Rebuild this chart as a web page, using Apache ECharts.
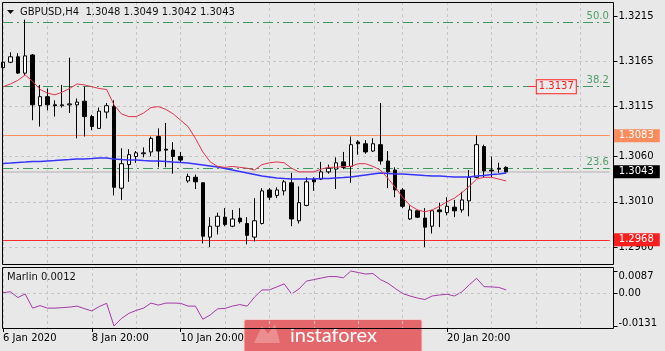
<!DOCTYPE html>
<html>
<head>
<meta charset="utf-8">
<script src="https://cdn.jsdelivr.net/npm/echarts@6/dist/echarts.min.js"></script>
<style>
  html, body { margin: 0; padding: 0; background: #e8e8e8; }
  #chart { width: 665px; height: 351px; }
</style>
</head>
<body>
<div id="chart"></div>
<script>
// GBPUSD H4 bars, [open, high, low, close]
const candles = [
  [1.3158, 1.3167, 1.3154, 1.3164], [1.3164, 1.3175, 1.3163, 1.3170], [1.3170, 1.3174, 1.3151, 1.3152],
  [1.3152, 1.3211, 1.3150, 1.3171], [1.3172, 1.3173, 1.3100, 1.3117], [1.3116, 1.3139, 1.3093, 1.3126],
  [1.3126, 1.3135, 1.3111, 1.3117], [1.3117, 1.3122, 1.3104, 1.3116], [1.3116, 1.3139, 1.3114, 1.3117],
  [1.3117, 1.3169, 1.3108, 1.3118], [1.3117, 1.3124, 1.3080, 1.3120], [1.3121, 1.3137, 1.3082, 1.3104],
  [1.3104, 1.3106, 1.3089, 1.3093], [1.3091, 1.3114, 1.3091, 1.3110], [1.3109, 1.3119, 1.3102, 1.3116],
  [1.3115, 1.3122, 1.3017, 1.3026], [1.3025, 1.3069, 1.3012, 1.3052], [1.3051, 1.3068, 1.3032, 1.3062],
  [1.3060, 1.3066, 1.3053, 1.3064], [1.3063, 1.3070, 1.3059, 1.3064], [1.3065, 1.3082, 1.3060, 1.3080],
  [1.3082, 1.3091, 1.3048, 1.3066], [1.3068, 1.3097, 1.3048, 1.3067], [1.3067, 1.3076, 1.3041, 1.3060],
  [1.3060, 1.3065, 1.3053, 1.3056], [1.3033, 1.3041, 1.3031, 1.3038], [1.3037, 1.3040, 1.3024, 1.3032],
  [1.3031, 1.3031, 1.2964, 1.2972], [1.2971, 1.2993, 1.2960, 1.2983], [1.2983, 1.2998, 1.2974, 1.2994],
  [1.2993, 1.3003, 1.2983, 1.2985], [1.2983, 1.3001, 1.2982, 1.2991], [1.2992, 1.3003, 1.2986, 1.2988],
  [1.2986, 1.2993, 1.2963, 1.2973], [1.2971, 1.3014, 1.2966, 1.2989], [1.2986, 1.3025, 1.2985, 1.3022],
  [1.3023, 1.3025, 1.3012, 1.3015], [1.3017, 1.3026, 1.3014, 1.3023], [1.3022, 1.3034, 1.3017, 1.3032],
  [1.3031, 1.3042, 1.2983, 1.2991], [1.2989, 1.3027, 1.2986, 1.3009], [1.3006, 1.3037, 1.3005, 1.3032],
  [1.3035, 1.3037, 1.3022, 1.3032], [1.3035, 1.3054, 1.3034, 1.3043], [1.3043, 1.3051, 1.3041, 1.3047],
  [1.3046, 1.3059, 1.3024, 1.3053], [1.3054, 1.3065, 1.3046, 1.3048], [1.3049, 1.3082, 1.3031, 1.3073],
  [1.3076, 1.3078, 1.3062, 1.3074], [1.3074, 1.3078, 1.3063, 1.3065], [1.3066, 1.3080, 1.3065, 1.3074],
  [1.3073, 1.3119, 1.3051, 1.3055], [1.3055, 1.3066, 1.3025, 1.3043], [1.3045, 1.3048, 1.3015, 1.3023],
  [1.3023, 1.3025, 1.3003, 1.3005], [1.2991, 1.3006, 1.2990, 1.3001], [1.3000, 1.3001, 1.2992, 1.2993],
  [1.2992, 1.3003, 1.2960, 1.2982], [1.2983, 1.3001, 1.2975, 1.3000], [1.3001, 1.3009, 1.2982, 1.2999],
  [1.2998, 1.3015, 1.2995, 1.3005], [1.3004, 1.3012, 1.2993, 1.3000], [1.3001, 1.3021, 1.2998, 1.3012],
  [1.3011, 1.3045, 1.2994, 1.3037], [1.3037, 1.3083, 1.3036, 1.3073], [1.3071, 1.3073, 1.3037, 1.3044],
  [1.3045, 1.3060, 1.3037, 1.3044], [1.3047, 1.3053, 1.3042, 1.3046], [1.3048, 1.3049, 1.3042, 1.3043]
]

// fast MA (red) and slow MA (blue)
const maFast = [
  1.3137, 1.3140, 1.3144, 1.3150, 1.3143, 1.3134, 1.3130, 1.3128, 1.3131, 1.3135, 1.3140, 1.3139, 1.3137, 1.3135, 1.3134,
  1.3117, 1.3107, 1.3104, 1.3104, 1.3108, 1.3114, 1.3115, 1.3112, 1.3107, 1.3100,
  1.3093, 1.3080, 1.3065, 1.3054, 1.3049, 1.3048, 1.3049, 1.3048, 1.3047, 1.3045,
  1.3051, 1.3053, 1.3054, 1.3053, 1.3047, 1.3043, 1.3043, 1.3043, 1.3046, 1.3048,
  1.3048, 1.3049, 1.3049, 1.3052, 1.3052, 1.3049, 1.3045, 1.3036, 1.3026, 1.3015,
  1.3006, 1.3001, 1.2999, 1.3001, 1.3005, 1.3010, 1.3014, 1.3020, 1.3027, 1.3035,
  1.3037, 1.3037, 1.3035, 1.3033
]
const maSlow = [
  1.30522, 1.30527, 1.30533, 1.30538, 1.30544, 1.30544, 1.30550, 1.30555, 1.30561, 1.30566,
  1.30572, 1.30572, 1.30577, 1.30583, 1.30583, 1.30572, 1.30566, 1.30561, 1.30561, 1.30555,
  1.30550, 1.30550, 1.30544, 1.30538, 1.30533, 1.30527, 1.30516, 1.30505, 1.30494, 1.30483,
  1.30467, 1.30450, 1.30434, 1.30417, 1.30401, 1.30384, 1.30373, 1.30362, 1.30356, 1.30351,
  1.30351, 1.30351, 1.30351, 1.30356, 1.30356, 1.30362, 1.30367, 1.30373, 1.30384, 1.30395,
  1.30406, 1.30417, 1.30412, 1.30406, 1.30406, 1.30401, 1.30395, 1.30389, 1.30384, 1.30384,
  1.30378, 1.30373, 1.30373, 1.30373, 1.30384, 1.30389, 1.30401, 1.30406, 1.30417
]

// Marlin oscillator (lower pane)
const marlin = [
  0.0001, 0.0005, -0.0018, -0.0004, -0.0060, -0.0050, -0.0060, -0.0060, -0.0058, -0.0056,
  -0.0052, -0.0062, -0.0071, -0.0054, -0.0041, -0.0131, -0.0101, -0.0081, -0.0069, -0.0060,
  -0.0040, -0.0048, -0.0040, -0.0040, -0.0041, -0.0052, -0.0052, -0.0104, -0.0087, -0.0063,
  -0.0061, -0.0052, -0.0046, -0.0052, -0.0016, 0.0012, 0.0012, 0.0024, 0.0036, -0.0004,
  0.0016, 0.0047, 0.0053, 0.0059, 0.0065, 0.0065, 0.0060, 0.0087, 0.0081, 0.0075,
  0.0077, 0.0053, 0.0039, 0.0018, -0.0002, -0.0012, -0.0020, -0.0026, -0.0012, -0.0008,
  -0.0005, -0.0012, 0.0004, 0.0032, 0.0058, 0.0025, 0.0024, 0.0022, 0.0012
]

// axis ticks (the 14 Jan / 16 Jan labels sit under the logo, so only visible ones)
const priceTicks = [1.2960, 1.3010, 1.3060, 1.3115, 1.3165, 1.3215]
const priceGrid = [1.2960, 1.3010, 1.3060, 1.3115, 1.3165]
const marlinTicks = [-0.0131, 0, 0.0087]
const timeTickIdx = [0, 12, 24, 60]
const timeTickText = ['6 Jan 2020', '8 Jan 20:00', '10 Jan 20:00', '20 Jan 20:00']

// levels drawn on the chart
const fibLevels = [1.3208, 1.3137, 1.3047]
const fibText = ['50.0', '38.2', '23.6']
const resistance = 1.3083
const support = 1.2968
const target = 1.3137

const FONT = 'DejaVu Sans'
const SLOTS = 83  // 69 bars + empty space on the right
const slots = Array.from({ length: SLOTS }, (_, i) => String(i))
const closes = candles.map(c => c[3])
const last = candles[candles.length - 1]
const lastClose = last[3]
const isTimeTick = (idx) => timeTickIdx.indexOf(idx) >= 0

const chart = echarts.init(document.getElementById('chart'), null, { renderer: 'canvas' })

const gridLine = { color: '#c6c6c6', type: [3, 3], width: 1 }
const boxLabel = (text, bg) => ({
  show: true,
  position: 'end',
  distance: 4,
  formatter: text,
  color: '#ffffff',
  backgroundColor: bg,
  padding: [2, 6, 1, 5],
  fontSize: 10,
  fontFamily: FONT
})
// invisible carrier series, only used to hang markLines on the price axis
const carrier = (z, markLine) => ({
  type: 'line', xAxisIndex: 0, yAxisIndex: 0, data: closes, z: z,
  showSymbol: false, silent: true,
  lineStyle: { opacity: 0 },
  markLine: Object.assign({ silent: true, symbol: ['none', 'none'], animation: false, precision: 6, z: z }, markLine)
})

const option = {
  animation: false,
  backgroundColor: '#e8e8e8',
  title: [
    {
      text: 'GBPUSD,H4  ' + last.map(v => v.toFixed(4)).join(' '),
      left: 20, top: 7, padding: 0,
      textStyle: { fontSize: 10, fontWeight: 'normal', fontFamily: FONT, color: '#111' }
    },
    {
      text: 'Marlin ' + marlin[marlin.length - 1].toFixed(4),
      left: 7, top: 272, padding: 0,
      textStyle: { fontSize: 10, fontWeight: 'normal', fontFamily: FONT, color: '#111' }
    }
  ],
  grid: [
    { left: 3, top: 2, width: 606.8, height: 262, outerBoundsMode: 'none' },
    { left: 3, top: 267, width: 606.8, height: 61, outerBoundsMode: 'none' }
  ],
  xAxis: [
    {
      gridIndex: 0, type: 'category', data: slots, boundaryGap: false,
      axisLine: { show: false, onZero: false }, axisTick: { show: false }, axisLabel: { show: false },
      splitLine: { show: true, interval: 5, lineStyle: gridLine }
    },
    {
      gridIndex: 1, type: 'category', data: slots, boundaryGap: false,
      axisLine: { show: false, onZero: false },
      axisTick: { show: true, interval: isTimeTick, length: 4, lineStyle: { color: '#000' } },
      axisLabel: {
        show: true, interval: isTimeTick, align: 'left', margin: 5,
        fontSize: 10, fontFamily: FONT, color: '#000',
        formatter: (v, idx) => timeTickText[timeTickIdx.indexOf(idx)] || ''
      },
      splitLine: { show: true, interval: 5, lineStyle: gridLine }
    }
  ],
  yAxis: [
    {
      gridIndex: 0, type: 'value', position: 'right', offset: 3.7,
      min: 1.29413, max: 1.32305,
      axisLine: { show: false },
      axisTick: { show: true, length: 4, customValues: priceTicks, lineStyle: { color: '#000' } },
      axisLabel: {
        customValues: priceTicks, margin: 5, fontSize: 10, fontFamily: FONT, color: '#000',
        formatter: v => v.toFixed(4)
      },
      splitLine: { show: false }
    },
    {
      gridIndex: 1, type: 'value', position: 'right', offset: 3.7,
      min: -0.01387, max: 0.01028,
      axisLine: { show: false },
      axisTick: { show: true, length: 4, customValues: marlinTicks, lineStyle: { color: '#000' } },
      axisLabel: {
        customValues: marlinTicks, margin: 5, fontSize: 10, fontFamily: FONT, color: '#000',
        formatter: v => {
          if (v === 0) return '0.00'
          if (v > 0) return '{hi|' + v.toFixed(4) + '}'
          return '{lo|' + v.toFixed(4) + '}'
        },
        rich: {
          hi: { padding: [10, 0, 0, 0], fontSize: 10, fontFamily: FONT, color: '#000' },
          lo: { padding: [0, 0, 6, 0], fontSize: 10, fontFamily: FONT, color: '#000' }
        }
      },
      splitLine: { show: false }
    }
  ],
  series: [
    // horizontal price grid
    carrier(1, {
      label: { show: false },
      lineStyle: gridLine,
      data: priceGrid.map(v => ({ yAxis: v }))
    }),
    // price levels
    carrier(2, {
      data: [
        ...fibLevels.map((v, i) => ({
          yAxis: v,
          lineStyle: { color: '#3c9a5f', type: [10, 4, 2, 4], width: 1 },
          label: {
            show: true, position: 'insideEndTop', distance: 1, formatter: fibText[i],
            color: '#4f9e6a', fontSize: 10, fontFamily: FONT
          }
        })),
        { yAxis: lastClose, lineStyle: { color: '#c4c4c4', type: 'solid', width: 1.5 }, label: boxLabel(lastClose.toFixed(4), '#000000') },
        { yAxis: resistance, lineStyle: { color: '#ff9060', type: 'solid', width: 1 }, label: boxLabel(resistance.toFixed(4), '#ff8c5c') },
        { yAxis: support, lineStyle: { color: '#ff2a2a', type: 'solid', width: 1 }, label: boxLabel(support.toFixed(4), '#ff1f1f') },
        [
          {
            coord: [71, target],
            lineStyle: { color: '#ff2a2a', type: 'solid', width: 1 },
            label: {
              show: true, position: 'end', distance: 1, formatter: target.toFixed(4),
              color: '#ff2020', backgroundColor: '#ececec', borderColor: '#ff2020', borderWidth: 1,
              padding: [2, 2, 1, 2], fontSize: 10, fontFamily: FONT
            }
          },
          { coord: [72, target] }
        ]
      ]
    }),
    {
      type: 'candlestick', xAxisIndex: 0, yAxisIndex: 0, z: 3,
      barWidth: 4,
      data: candles.map(c => [c[0], c[3], c[2], c[1]]),
      itemStyle: {
        color: '#ffffff', color0: '#000000',
        borderColor: '#000000', borderColor0: '#000000', borderWidth: 1
      }
    },
    {
      type: 'line', xAxisIndex: 0, yAxisIndex: 0, data: maSlow, z: 4,
      showSymbol: false, smooth: false,
      lineStyle: { color: '#3535ff', width: 1.5 }
    },
    {
      type: 'line', xAxisIndex: 0, yAxisIndex: 0, data: maFast, z: 4,
      showSymbol: false, smooth: false,
      lineStyle: { color: '#e2334f', width: 1 }
    },
    {
      type: 'line', xAxisIndex: 1, yAxisIndex: 1, data: marlin, z: 3,
      showSymbol: false, smooth: false,
      lineStyle: { color: '#a53aa8', width: 1 },
      markLine: {
        silent: true, symbol: ['none', 'none'], animation: false, precision: 6,
        label: { show: false },
        lineStyle: gridLine,
        data: [{ yAxis: 0 }]
      }
    }
  ],
  graphic: [
    { type: 'polygon', shape: { points: [[7, 10], [14, 10], [10.5, 14]] }, style: { fill: '#111' }, z: 10 },
    { type: 'rect', shape: { x: 2.5, y: 2.5, width: 611, height: 262 }, style: { fill: 'none', stroke: '#000', lineWidth: 1 }, z: 10 },
    { type: 'rect', shape: { x: 2.5, y: 267.5, width: 611, height: 61 }, style: { fill: 'none', stroke: '#000', lineWidth: 1 }, z: 10 },
    {
      type: 'group', z: 20,
      children: [
        { type: 'rect', shape: { x: 244, y: 319.5, width: 178, height: 34, r: 2 }, style: { fill: '#e4686b', stroke: '#f4d2d2', lineWidth: 1 } },
        { type: 'polygon', shape: { points: [[254, 343], [262, 326], [268, 334], [275, 324], [280, 343]] }, style: { fill: 'rgba(255,255,255,0.25)' } },
        {
          type: 'text', x: 290, y: 336,
          style: { text: 'instaforex', fill: '#ffffff', fontSize: 20, fontFamily: 'Lato', verticalAlign: 'middle', align: 'left' }
        }
      ]
    }
  ]
}

chart.setOption(option)
</script>
</body>
</html>
